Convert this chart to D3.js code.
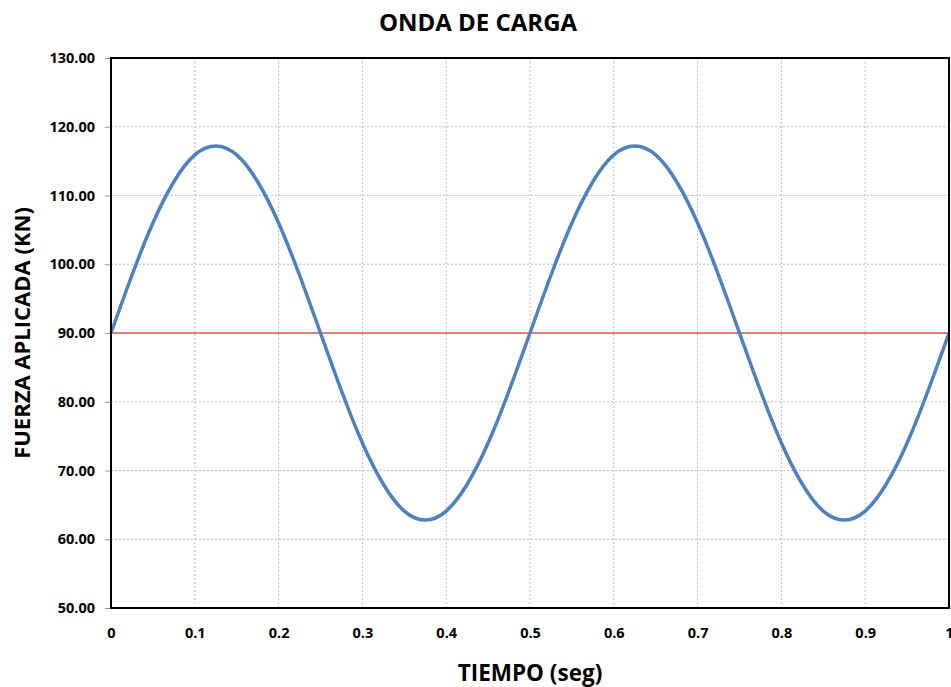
<!DOCTYPE html>
<html><head><meta charset="utf-8">
<script src="https://cdn.jsdelivr.net/npm/d3@7"></script>
<style>
body{margin:0;background:#fff;}
text{font-family:"Open Sans",sans-serif;font-weight:bold;fill:#000;}
</style></head>
<body><svg id="c" width="951" height="687"></svg>
<script>
const title = "ONDA DE CARGA";
const xTitle = "TIEMPO (seg)";
const yTitle = "FUERZA APLICADA (KN)";
const tiempo = [0,0.025,0.05,0.075,0.1,0.125,0.15,0.175,0.2,0.225,0.25,0.275,0.3,0.325,0.35,0.375,0.4,0.425,0.45,0.475,0.5,
  0.525,0.55,0.575,0.6,0.625,0.65,0.675,0.7,0.725,0.75,0.775,0.8,0.825,0.85,0.875,0.9,0.925,0.95,0.975,1];
const fuerza = [90.0,98.4,106.0,112.0,115.9,117.2,115.9,112.0,106.0,98.4,90.0,81.6,74.0,68.0,64.1,62.8,64.1,68.0,74.0,81.6,90.0,
  98.4,106.0,112.0,115.9,117.2,115.9,112.0,106.0,98.4,90.0,81.6,74.0,68.0,64.1,62.8,64.1,68.0,74.0,81.6,90.0];
const media = 90;
const xTicks = [0,0.1,0.2,0.3,0.4,0.5,0.6,0.7,0.8,0.9,1];
const yTicks = [50,60,70,80,90,100,110,120,130];

const svg = d3.select("#c");
const L=111,R=949,T=58,B=608;
const x = d3.scaleLinear().domain([0,1]).range([L,R]);
const y = d3.scaleLinear().domain([50,130]).range([B,T]);

// grid
svg.append("g").selectAll("line").data(yTicks).join("line")
  .attr("x1",L).attr("x2",R).attr("y1",d=>y(d)).attr("y2",d=>y(d))
  .attr("stroke","#bdbdbd").attr("stroke-width",1).attr("stroke-dasharray","2,2");
svg.append("g").selectAll("line").data(xTicks).join("line")
  .attr("y1",T).attr("y2",B).attr("x1",d=>x(d)).attr("x2",d=>x(d))
  .attr("stroke","#bdbdbd").attr("stroke-width",1).attr("stroke-dasharray","2,2");

// y axis
const ya = svg.append("g").attr("transform",`translate(${L},0)`)
  .call(d3.axisLeft(y).tickValues(yTicks).tickFormat(d3.format(".2f")).tickSize(6).tickPadding(10));
ya.select(".domain").remove();
ya.selectAll("line").attr("stroke","#999");
ya.selectAll("text").style("font-size","14.5px").style("font-family","'Open Sans',sans-serif").style("font-weight","bold");

const xa = svg.append("g").attr("transform",`translate(0,${B})`)
  .call(d3.axisBottom(x).tickValues(xTicks).tickFormat(d=>d3.format("")(d)).tickSize(0).tickPadding(20));
xa.select(".domain").remove();
xa.selectAll("text").style("font-size","14.5px").style("font-family","'Open Sans',sans-serif").style("font-weight","bold");

// mean line
svg.append("line").attr("x1",x(0)).attr("x2",x(1)).attr("y1",y(media)).attr("y2",y(media))
  .attr("stroke","#d9837f").attr("stroke-width",2);

// series
const line = d3.line().x((d,i)=>x(tiempo[i])).y(d=>y(d)).curve(d3.curveNatural);
svg.append("path").datum(fuerza).attr("d",line).attr("fill","none")
  .attr("stroke","#4f81bd").attr("stroke-width",3.5);

// border
svg.append("rect").attr("x",L).attr("y",T).attr("width",R-L).attr("height",B-T)
  .attr("fill","none").attr("stroke","#000").attr("stroke-width",2);

svg.append("text").attr("x",478).attr("y",31).attr("text-anchor","middle").style("font-size","24px").text(title);
svg.append("text").attr("x",530).attr("y",681).attr("text-anchor","middle").style("font-size","22.5px").text(xTitle);
svg.append("text").attr("transform",`translate(30,333) rotate(-90)`).attr("text-anchor","middle").style("font-size","22px").text(yTitle);
</script></body></html>
